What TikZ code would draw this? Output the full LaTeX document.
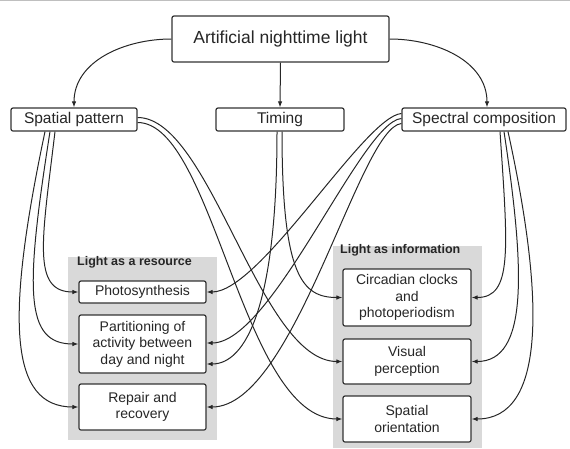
\documentclass[tikz,border=0pt]{standalone}
\usepackage{fontspec}
\setmainfont{Liberation Sans}
\usetikzlibrary{calc}
\usetikzlibrary{arrows.meta}

\begin{document}
\begin{tikzpicture}[x=1pt, y=-1pt,
    box/.style={rectangle, draw=black!80, line width=1.2pt, rounded corners=2pt, fill=white, inner sep=0pt, align=center, text=black!85},
    driver/.style={box, minimum height=23pt, font=\fontsize{15.5}{18}\selectfont},
    effect/.style={box, minimum width=127pt, font=\fontsize{14}{16.5}\selectfont},
    panel/.style={fill=black!15},
    title/.style={anchor=west, inner sep=0pt, font=\bfseries\fontsize{12.5}{14}\selectfont, text=black!85},
    link/.style={draw=black!85, line width=1pt, -{Latex[length=6pt,width=4.5pt]}}]
    \useasboundingbox (0,0) rectangle (570,448);
    \draw[black!25, line width=1pt] (0,0.5) -- (570,0.5);

    % sources
    \node[box, minimum width=217pt, minimum height=46pt, font=\fontsize{17.5}{20}\selectfont] (anl) at (280.5,39) {Artificial nighttime light};
    \node[driver, minimum width=126pt] (spat) at (74,119.5) {Spatial pattern};
    \node[driver, minimum width=128pt] (tim) at (280,119.5) {Timing};
    \node[driver, minimum width=164pt] (spec) at (484,119.5) {Spectral composition};

    % the two groups
    \fill[panel] (68,257) rectangle (217,440);
    \fill[panel] (333,246) rectangle (482,448);
    \node[title] (res) at (77,262) {Light as a resource};
    \node[title] (info) at (340,250) {Light as information};

    \node[effect, minimum height=22pt] (photo) at (142.5,292) {Photosynthesis};
    \node[effect, minimum height=58pt] (part) at (142.5,344) {Partitioning of\\activity between\\day and night};
    \node[effect, minimum height=46pt] (repair) at (142.5,407) {Repair and\\recovery};
    \node[effect, minimum width=128pt, minimum height=57pt] (circ) at (407,297.5) {Circadian clocks\\and\\photoperiodism};
    \node[effect, minimum width=128pt, minimum height=45pt] (vis) at (407,361.5) {Visual\\perception};
    \node[effect, minimum width=128pt, minimum height=46pt] (orient) at (407,419) {Spatial\\orientation};

    % top level
    \draw[link] (anl.west) to[out=180, in=90] (spat.north);
    \draw[link] (anl.south) -- (tim.north);
    \draw[link] (anl.east) to[out=0, in=90] ($(spec.north)+(3,0)$);

    % spatial pattern
    \foreach \dx/\dst/\cx/\cy/\ex in {-19/photo/-13/109/-47, -24/part/-25/159/-54, -29/repair/-40/189/-69}
        \draw[link] ($(spat.south)+(\dx,0)$) .. controls +(\cx,\cy) and +(\ex,0) .. (\dst.west);
    \draw[link] ($(spat.east)+(0,-2)$) .. controls +(73,0) and +(-83,0) .. (vis.west);
    \draw[link] ($(spat.east)+(0,3)$) .. controls +(76,0) and +(-100,0) .. (orient.west);

    % timing
    \draw[link] ($(tim.south)+(2,0)$) .. controls +(0,145) and +(-40,0) .. (circ.west);
    \draw[link] ($(tim.south)+(-3,0)$) .. controls +(0,175) and +(39,0) .. ($(part.east)+(0,20)$);

    % spectral composition
    \draw[link] ($(spec.west)+(0,-6)$) .. controls +(-37,3) and +(54,0) .. (photo.east);
    \draw[link] ($(spec.west)+(0,-1)$) .. controls +(-40,3) and +(66,0) .. ($(part.east)+(0,-1)$);
    \draw[link] ($(spec.west)+(0,4)$) .. controls +(-42,4) and +(88,0) .. (repair.east);
    \foreach \dx/\dst/\cx/\cy/\ex in {16/circ/8/119/41, 20/vis/21/139/57, 24/orient/37/169/74}
        \draw[link] ($(spec.south)+(\dx,0)$) .. controls +(\cx,\cy) and +(\ex,0) .. (\dst.east);
\end{tikzpicture}
\end{document}
